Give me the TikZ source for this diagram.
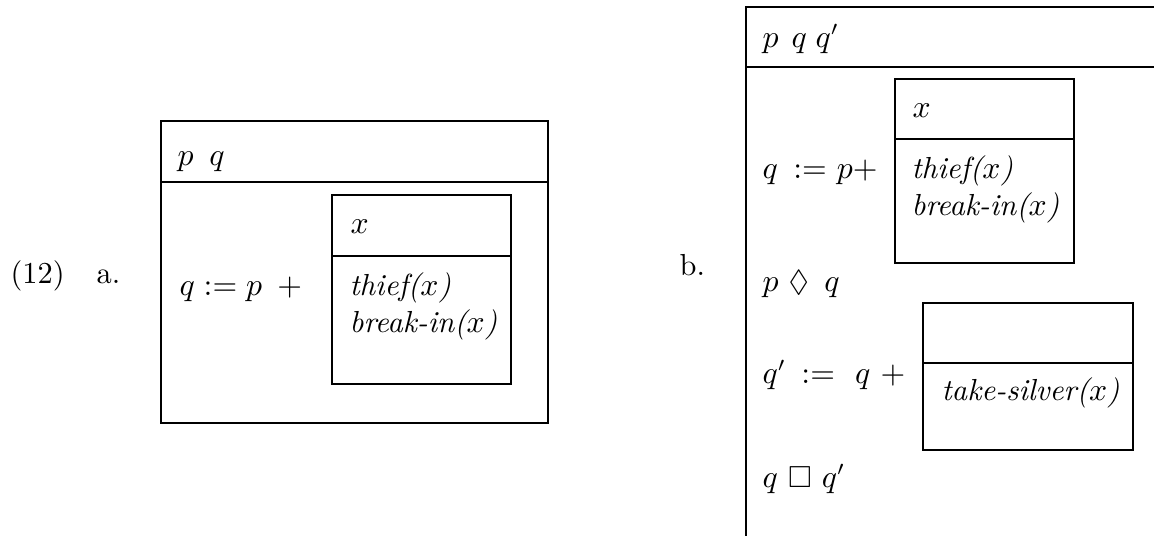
\documentclass[tikz,border=0pt]{standalone}
\usepackage{amssymb}
\begin{document}
\begin{tikzpicture}[x=0.345pt,y=-0.345pt,
  box/.style={line width=0.85pt},
  txt/.style={inner sep=0pt, anchor=base west, font=\fontsize{10.5}{12.6}\selectfont}]
\useasboundingbox (0,0) rectangle (1154,535);
\clip (0,0) rectangle (1154,535);
% ---- (12) a.
\node[txt] (n12) at (10,283) {(12)};
\node[txt] (la) at (96,283) {a.};
\draw[box] (161,121) rectangle (548,423);
\draw[box] (161,182) -- (548,182);
\node[txt] (apq) at (177,165) {$p$\hspace{5.5pt}$q$};
\node[txt] (aeq) at (179,295) {$q \mathrel{:=} p\ \,+$};
\draw[box] (332,195) rectangle (511,384);
\draw[box] (332,256) -- (511,256);
\node[txt] (ax) at (350,233) {$x$};
\node[txt] (athief) at (349,295) {\textit{thief($x$)}};
\node[txt] (abreak) at (349,332) {\textit{break-in($x$)}};
% ---- b.
\node[txt] (lb) at (679,275) {b.};
\draw[box] (1160,7) -| (746,540);
\draw[box] (746,67) -- (1160,67);
\node[txt] (bpq) at (762,47) {$p$\hspace{4.5pt}$q$\hspace{3pt}$q'$};
\draw[box] (895,79) rectangle (1074,263);
\draw[box] (895,139) -- (1074,139);
\node[txt] (bx) at (912,117) {$x$};
\node[txt] (beqa) at (762,178) {$q\ \,{:=}\ p{+}$};
\node[txt] (bthief) at (911,178) {\textit{thief($x$)}};
\node[txt] (bbreak) at (911,215) {\textit{break-in($x$)}};
\node[txt] (bdia) at (762,291) {$p\ \Diamond\ \,q$};
\draw[box] (923,303) rectangle (1133,450);
\draw[box] (923,363) -- (1133,363);
\node[txt] (beqb) at (762,383) {$q'\ \,{:=}\ \ q\ +$};
\node[txt] (bsilver) at (941,400) {\textit{take-silver($x$)}};
\node[txt] (bbox) at (762,487) {$q\ \Box\ q'$};
\end{tikzpicture}
\end{document}
